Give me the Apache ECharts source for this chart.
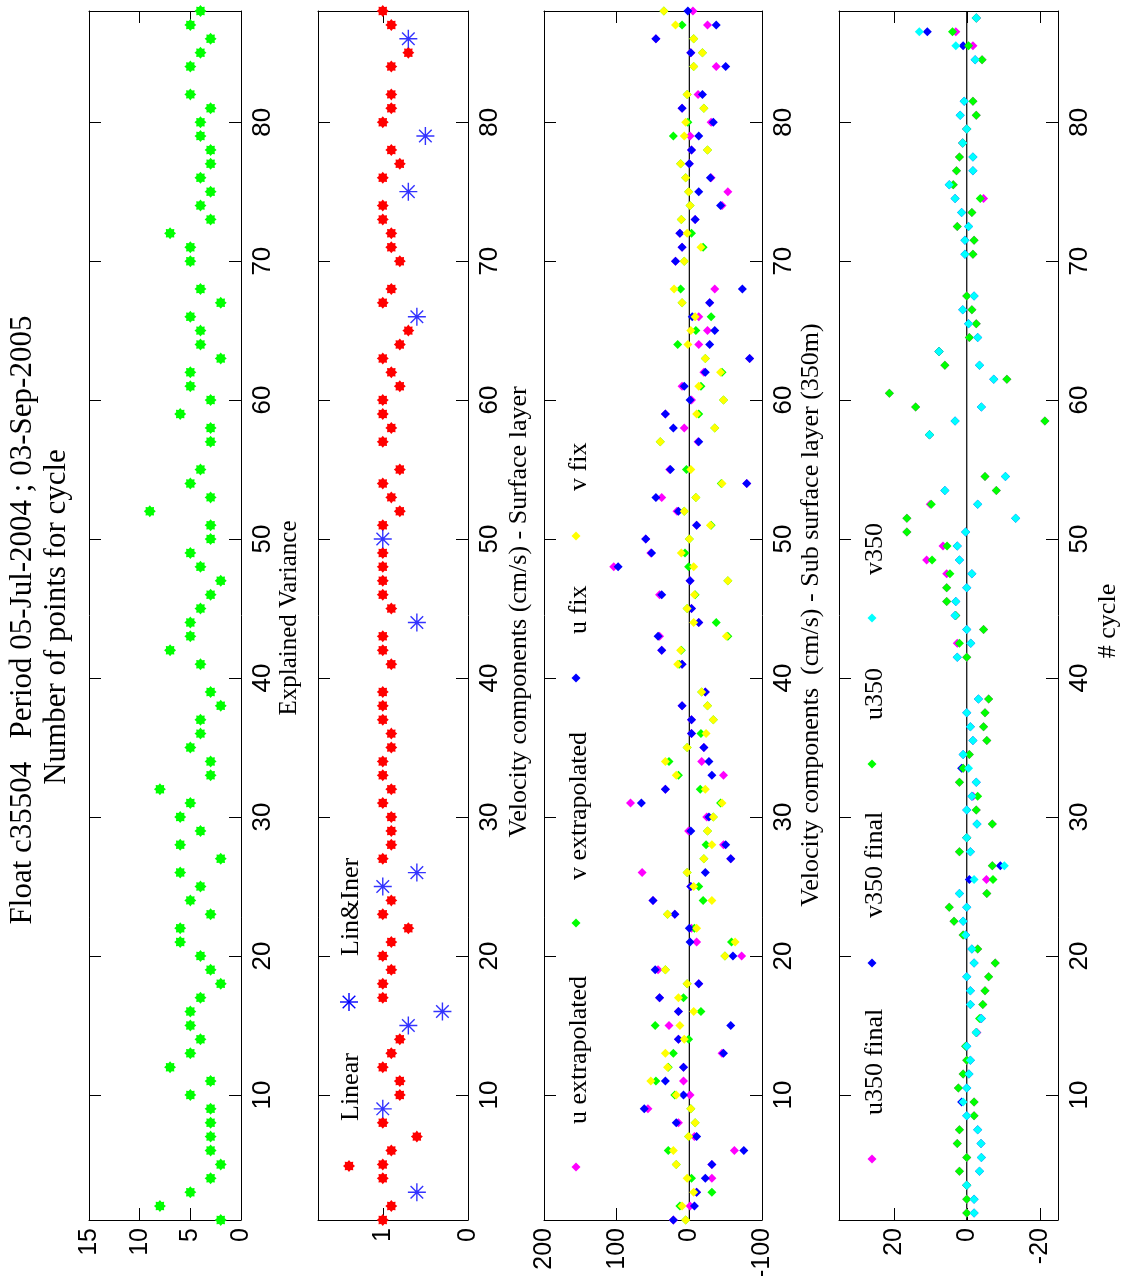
<!DOCTYPE html>
<html><head><meta charset="utf-8">
<script src="https://cdn.jsdelivr.net/npm/echarts@6.0.0/dist/echarts.min.js"></script>
<style>html,body{margin:0;padding:0;background:#fff}#c{width:1128px;height:1276px}</style>
</head><body><div id="c"></div>
<script>
// ---------------- DATA ----------------
const cycles = [1,2,3,4,5,6,7,8,9,10,11,12,13,14,15,16,17,18,19,20,21,22,23,24,25,26,27,28,29,30,31,32,33,34,35,36,37,38,39,
  41,42,43,44,45,46,47,48,49,50,51,52,53,54,55,57,58,59,60,61,62,63,64,65,66,67,68,70,71,72,73,74,75,76,77,78,79,80,81,82,84,85,86,87,88];

const nPoints = [2,8,5,3,2,3,3,3,3,5, 3,7,5,4,5,5,4,2,3,4, 6,6,3,5,4,6,2,6,4,6, 5,8,3,3,5,4,4,2,3,
  4,7,5,5,4,3,2,4,5,3,3,9,3,5,4, 3,3,6,3,5,5,2,4,4,5,2,4, 5,5,7,3,4,3,4,3,3,4,4,3,5, 5,4,3,5,4];

const linearVar = [1.0,0.9,null,1.0,1.0,0.9,0.6,1.0,null,0.8, 0.8,1.0,0.9,0.8,null,null,1.0,1.0,0.9,1.0,
  0.9,0.7,1.0,0.9,null,null,1.0,0.9,0.9,0.9, 1.0,0.9,1.0,1.0,0.9,0.9,1.0,1.0,1.0,
  0.9,1.0,1.0,null,0.9,1.0,1.0,1.0,1.0,null,1.0,0.8,0.9,1.0,0.8,
  1.0,0.9,1.0,1.0,0.8,0.9,1.0,0.8,0.7,null,1.0,0.9,
  0.8,0.9,0.9,1.0,1.0,null,1.0,0.8,0.9,null,1.0,0.9,0.9, 0.9,0.7,null,0.9,1.0];

const linInerVar = [null,null,0.6,null,null,null,null,null,1.0,null, null,null,null,null,0.7,0.3,null,null,null,null,
  null,null,null,null,1.0,0.6,null,null,null,null, null,null,null,null,null,null,null,null,null,
  null,null,null,0.6,null,null,null,null,null,1.0,null,null,null,null,null,
  null,null,null,null,null,null,null,null,null,0.6,null,null,
  null,null,null,null,null,0.7,null,null,null,0.5,null,null,null, null,null,0.7,null,null];

const uExtrap = [22,-1,-10,-31,-31,-62,-7,15,57,-1, 8,8,-45,15,28,15,41,-13,43,-72, -10,-3,20,50,-2,65,-57,-47,1,-24,
  81,33,-47,-17,-20,-3,-3,10,-22, 10,38,41,-13,-3,41,-1,104,53,60,-10,17,38,-79,27,
  -12,7,33,-3,10,-20,-83,-13,-25,-13,-28,-35, 19,10,13,-8,-45,-53,-30,0,-3,-1,-30,10,-12, -37,-2,46,-25,-5];
const vExtrap = [5,13,-31,-3,18,29,1,-8,-2,20, 46,29,22,1,47,-16,8,3,33,-49, -58,-7,30,-19,-13,3,-20,-23,-25,-33,
  -43,-15,15,28,3,-16,-33,-25,-17, 14,11,-53,-37,3,-8,-53,1,6,0,-30,7,-9,-44,4,
  40,-35,-13,-47,-16,-45,-22,16,-9,-30,10,12, 7,-19,-3,11,-1,1,5,12,-25,22,2,-20,3, -6,-18,-6,10,35];
const uFix = [22,-7,-10,-22,-31,-75,-10,18,62,8, 33,8,-47,15,-57,15,41,-13,47,-60, -1,0,20,50,-2,-22,-57,-50,-2,-27,
  66,33,-31,-27,-20,-3,-3,10,-22, 10,38,43,-13,-3,38,-1,98,52,60,-10,15,46,-79,26,
  -13,22,33,-1,7,-22,-83,-28,-35,-4,-28,-73, 19,10,13,-8,-43,-13,-29,0,-3,-13,-33,10,-18, -50,-2,46,-37,2];
const vFix = [5,10,-6,3,18,22,1,-8,-2,18, 53,30,33,7,13,-6,15,3,33,-49, -63,-10,30,-31,-6,3,-20,-31,-25,-33,
  -45,-22,18,33,3,-23,-33,-25,-17, 16,12,-51,-6,3,-7,-53,-6,11,0,-29,7,-9,-45,-2,
  40,-35,-10,-47,-13,-43,-22,2,-2,-8,10,21, 7,-16,3,11,-1,1,5,12,-25,7,5,-20,3, -6,-18,-6,19,35];

const cycles350 = [1.5,2.5,3.5,4.5,5.5,6.5,7.5,8.5,9.5,10.5,11.5,12.5,13.5,14.5,15.5,16.5,17.5,18.5,19.5,20.5,
  21.5,22.5,23.5,24.5,25.5,26.5,27.5,28.5,29.5,30.5,31.5,32.5,33.5,34.5,35.5,36.5,37.5,38.5,
  41.5,42.5,43.5,44.5,45.5,46.5,47.5,48.5,49.5,50.5,51.5,52.5,53.5,54.5,
  57.5,58.5,59.5,60.5,61.5,62.5,63.5,64.5,65.5,66.5,67.5,
  70.5,71.5,72.5,73.5,74.5,75.5,76.5,77.5,78.5,79.5,80.5,81.5, 84.5,85.5,86.5,87.5];
const u350final = [0,0,0,2,0,2.6,2,-2,-2,2.3, 1,0,0.3,-2.8,-3.8,-4.4,-5,-6,-7.8,-3, 1,3.5,4.8,-5.5,-5.4,-7,2,0,-7,-2.6,
  -1.7,2,1,-0.7,-5.5,-4.6,-5,-6, 0,2.6,-4.6,3,5.5,5.5,5.5,11,6.5,16.4,16.4,10,-8.1,-5,
  10.2,-21.4,14,21.2,-11,6,7.6,-0.7,-2.6,-1.4,0, -1.7,-2,2.6,-1.4,-4.6,3.7,2.8,2,1.1,0,-2.6,-1.7, -4.2,-1.7,3,-2.6];
const v350final = [-2,-2,0,-3.5,-4,-3.9,-3,0,1.4,0, -0.6,-1,0,-2.6,-4,-1,-1,0,-2,-1.4, 0.3,1,0,2,-0.7,-9.2,-1,0,-2.8,0,
  -1.4,-2.6,1.4,1,-1.7,-1,0,-3.2, 2.6,-1.1,0,3.2,3,0,-1.4,2,2.6,0.3,-13.4,-3,6,-10.6,
  10.2,3.2,-4,null,-7.4,-3.5,7.6,-3,-0.5,1.1,-2, 0.5,0.5,-0.5,1.4,3.2,4.8,-1.7,-1.7,1.1,0,1.8,0.7, -2.3,1,10.8,-2.6];
const u350 = [0,0,0,2,0,2.6,2,-2,-2,2.3, 1,0,0.3,-2.6,-3.5,-4.4,-5,-6,-7.8,-3, 1,3.5,4.8,-5.5,-7.2,-7,2,0,-7,-2.6,
  -3,2,1,-0.7,-5.5,-4.6,-5,-6, 0,2,-4.6,3,5.5,5.5,4.6,9.5,5.4,16.4,16.4,9.7,-8.1,-5,
  10.2,-21.4,14,21.2,-11,6,7.6,-0.7,-2.6,-1.4,0, -1.7,-2,2.6,-1.4,-3.7,3.7,2.8,2,1.1,0,-2.6,-1.7, -4.2,-0.5,3.9,-2.6];
const v350 = [-2,-2,0,-3.5,-4,-3.9,-3,0,1,0, -0.6,-1,0,-2.6,-4,-1,-1,0,-2,-1.4, 0.3,1,0,2,-2,-10.3,-1,0,-2.8,0,
  -1.4,-2.6,-0.5,1,-1.7,-1,0,-3.2, 2.6,-1.1,0,3.2,3,0,-1.4,2,2.6,0.3,-13.4,-3,6,-10.6,
  10.2,3.2,-4,null,-7.4,-3.5,7.6,-3,-0.5,1.1,-2, 0.5,0.5,-0.5,1.4,3.2,4.8,-1.7,-1.7,1.1,0,1.8,0.7, -2.3,3,13,-2.6];

const zeroLineCycles = [1, 88];

const titleLine1 = 'Float c35504   Period 05-Jul-2004 ; 03-Sep-2005';
const titleLine2 = 'Number of points for cycle';
const panelTitles = ['Explained Variance', 'Velocity components (cm/s) - Surface layer',
  'Velocity components  (cm/s) - Sub surface layer (350m)', '# cycle'];

// ---------------- STYLE ----------------
const SERIF = '"Liberation Serif","Times New Roman",serif';
const TICKFONT = '"Liberation Sans",Arial,sans-serif';
const BURST = 'path://M1,0L0.665,0.276L0.707,0.707L0.276,0.665L0,1L-0.276,0.665L-0.707,0.707L-0.665,0.276L-1,0L-0.665,-0.276L-0.707,-0.707L-0.276,-0.665L0,-1L0.276,-0.665L0.707,-0.707L0.665,-0.276Z';
const ASTER = 'path://M0,-1L0,1M-1,0L1,0M-0.7,-0.7L0.7,0.7M-0.7,0.7L0.7,-0.7';
const C = {green:'#00ff00', red:'#ff0000', blue:'#0000ff', magenta:'#ff00ff', yellow:'#ffff00', cyan:'#00ffff'};

function pairs(vals, cyc) {
  const out = [];
  vals.forEach((v, i) => { if (v != null) out.push([v, cyc[i]]); });
  return out;
}

const grids = [
  {left: 89, top: 11, width: 152, height: 1209},
  {left: 318, top: 11, width: 150, height: 1209},
  {left: 544, top: 11, width: 218, height: 1209},
  {left: 839, top: 11, width: 219, height: 1209}
].map(g => Object.assign({show: false, outerBoundsMode: 'none', containLabel: false}, g));

const valueRanges = [
  {min: 0, max: 15, interval: 5},
  {min: 0, max: 1.76, minInterval: 1, maxInterval: 1},
  {min: -100, max: 200, interval: 100},
  {min: -25, max: 35, minInterval: 20, maxInterval: 20}
];

const lineStyle = {color: '#000', width: 1};
const xAxes = [], yAxes = [];
valueRanges.forEach((r, i) => {
  const base = Object.assign({type: 'value', gridIndex: i, inverse: true, scale: false,
    axisLine: {show: true, onZero: false, lineStyle},
    axisTick: {show: true, inside: true, length: 12, lineStyle},
    splitLine: {show: false}}, r);
  xAxes.push(Object.assign({}, base, {position: 'bottom',
    axisLabel: {show: true, rotate: 90, margin: 8, color: '#000', fontSize: 25, fontFamily: TICKFONT,
      showMinLabel: i === 3 ? false : true, showMaxLabel: (i === 1 || i === 3) ? false : true}}));
  xAxes.push(Object.assign({}, base, {position: 'top', axisLabel: {show: false}}));
  const ybase = {type: 'value', gridIndex: i, min: 1, max: 88, minInterval: 10, maxInterval: 10,
    axisLine: {show: true, onZero: false, lineStyle},
    axisTick: {show: true, inside: true, length: 12, lineStyle},
    splitLine: {show: false}};
  yAxes.push(Object.assign({}, ybase, {position: 'right',
    axisLabel: {show: true, rotate: 90, margin: 9, color: '#000', fontSize: 26, fontFamily: TICKFONT,
      showMinLabel: false, showMaxLabel: false}}));
  yAxes.push(Object.assign({}, ybase, {position: 'left', axisLabel: {show: false}}));
});

function scatter(name, panel, data, color, symbol, size, extra) {
  return Object.assign({
    name, type: 'scatter', xAxisIndex: panel * 2, yAxisIndex: panel * 2,
    data, symbol, symbolSize: size, itemStyle: {color, opacity: 1}, emphasis: {disabled: true}
  }, extra || {});
}
function zeroLine(panel) {
  return {type: 'line', xAxisIndex: panel * 2, yAxisIndex: panel * 2, z: 1, symbol: 'none',
    data: zeroLineCycles.map(c => [0, c]), lineStyle: {color: '#000', width: 1.2}, silent: true};
}

const series = [
  scatter('Number of points', 0, pairs(nPoints, cycles), C.green, BURST, 12),
  scatter('Linear', 1, pairs(linearVar, cycles), C.red, BURST, 12),
  scatter('Lin&Iner', 1, pairs(linInerVar, cycles), 'rgba(0,0,0,0)', ASTER, 18,
    {itemStyle: {color: 'rgba(0,0,0,0)', borderColor: C.blue, borderWidth: 1.4}}),
  zeroLine(2),
  scatter('u extrapolated', 2, pairs(uExtrap, cycles), C.magenta, 'diamond', 9),
  scatter('v extrapolated', 2, pairs(vExtrap, cycles), C.green, 'diamond', 9),
  scatter('u fix', 2, pairs(uFix, cycles), C.blue, 'diamond', 9),
  scatter('v fix', 2, pairs(vFix, cycles), C.yellow, 'diamond', 9),
  zeroLine(3),
  scatter('u350 final', 3, pairs(u350final, cycles350), C.magenta, 'diamond', 9),
  scatter('v350 final', 3, pairs(v350final, cycles350), C.blue, 'diamond', 9),
  scatter('u350', 3, pairs(u350, cycles350), C.green, 'diamond', 9),
  scatter('v350', 3, pairs(v350, cycles350), C.cyan, 'diamond', 9)
];

// ---------------- GRAPHICS (rotated texts, in-plot legends) ----------------
function vtext(x, y, text, size, align) {
  return {type: 'text', x, y, rotation: Math.PI / 2, silent: true,
    style: {text, fontSize: size, fontFamily: SERIF, fill: '#000', textAlign: align || 'center',
      textVerticalAlign: 'middle', verticalAlign: 'middle'}};
}
function diamond(cx, cy, color) {
  const r = 4.5;
  return {type: 'polygon', silent: true, shape: {points: [[cx, cy - r], [cx + r, cy], [cx, cy + r], [cx - r, cy]]},
    style: {fill: color}};
}
function burst(cx, cy, color) {
  const pts = [];
  for (let k = 0; k < 16; k++) {
    const a = k * Math.PI / 8, rr = (k % 2) ? 6 * 0.72 : 6;
    pts.push([cx + rr * Math.cos(a), cy + rr * Math.sin(a)]);
  }
  return {type: 'polygon', silent: true, shape: {points: pts}, style: {fill: color}};
}
function asterisk(cx, cy, color) {
  const r = 9, d = 6.3, st = {stroke: color, lineWidth: 1.4};
  return {type: 'group', silent: true, children: [
    {type: 'line', shape: {x1: cx, y1: cy - r, x2: cx, y2: cy + r}, style: st},
    {type: 'line', shape: {x1: cx - r, y1: cy, x2: cx + r, y2: cy}, style: st},
    {type: 'line', shape: {x1: cx - d, y1: cy - d, x2: cx + d, y2: cy + d}, style: st},
    {type: 'line', shape: {x1: cx - d, y1: cy + d, x2: cx + d, y2: cy - d}, style: st}
  ]};
}

const graphic = [
  vtext(23, 620, titleLine1, 31),
  vtext(57, 617, titleLine2, 31),
  vtext(289, 618, panelTitles[0], 25),
  vtext(519, 612, panelTitles[1], 26),
  vtext(811, 615, panelTitles[2], 26),
  vtext(1108, 621, panelTitles[3], 26),
  // panel 2 legend
  burst(349, 1166, C.red), vtext(351, 1121, 'Linear', 26, 'left'),
  asterisk(349, 1002, C.blue), vtext(351, 956, 'Lin&Iner', 26, 'left'),
  // panel 3 legend
  diamond(576, 1167, C.magenta), vtext(579, 1124, 'u extrapolated', 26, 'left'),
  diamond(576, 923, C.green), vtext(579, 880, 'v extrapolated', 26, 'left'),
  diamond(576, 678, C.blue), vtext(579, 634, 'u fix', 26, 'left'),
  diamond(576, 536, C.yellow), vtext(579, 491, 'v fix', 26, 'left'),
  // panel 4 legend
  diamond(872, 1159, C.magenta), vtext(875, 1115, 'u350 final', 26, 'left'),
  diamond(872, 963, C.blue), vtext(875, 918, 'v350 final', 26, 'left'),
  diamond(872, 764, C.green), vtext(875, 720, 'u350', 26, 'left'),
  diamond(872, 618, C.cyan), vtext(875, 575, 'v350', 26, 'left')
];

const chart = echarts.init(document.getElementById('c'), null, {renderer: 'canvas'});
chart.setOption({
  backgroundColor: '#ffffff',
  animation: false,
  textStyle: {fontFamily: SERIF, color: '#000'},
  grid: grids,
  xAxis: xAxes,
  yAxis: yAxes,
  series,
  graphic
});
</script>
</body></html>
